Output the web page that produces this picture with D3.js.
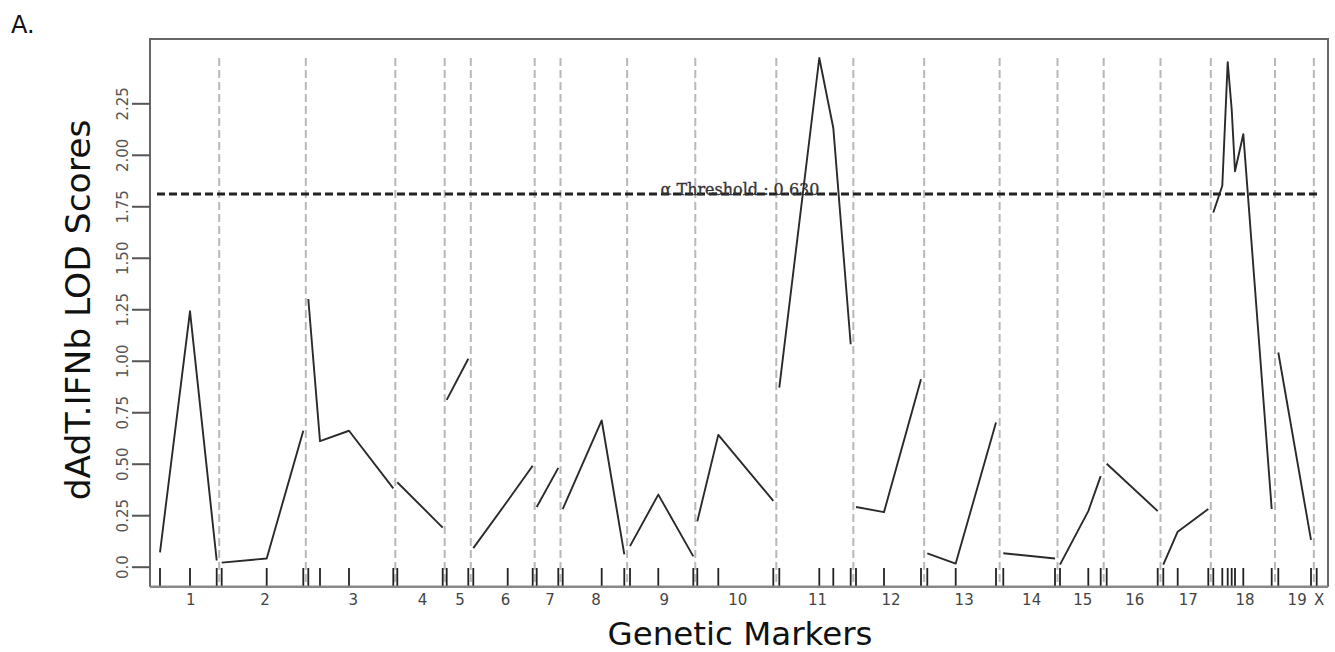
<!DOCTYPE html>
<html>
<head>
<meta charset="utf-8">
<script src="https://cdn.jsdelivr.net/npm/d3@7"></script>
<style>
  body { margin: 0; background: #fff; }
  svg text { font-family: "DejaVu Sans", sans-serif; }
</style>
</head>
<body>
<div id="chart"></div>
<script>
// chromosome names in genome order
const chromosomes = ["1","2","3","4","5","6","7","8","9","10","11","12","13","14","15","16","17","18","19","X"];

// one entry per genetic marker: chromosome, map position, LOD score
const markerChr = [
  "1","1","1",
  "2","2","2",
  "3","3","3","3",
  "4","4",
  "5","5",
  "6","6","6",
  "7","7",
  "8","8","8",
  "9","9","9",
  "10","10","10",
  "11","11","11","11",
  "12","12","12",
  "13","13","13",
  "14","14",
  "15","15","15",
  "16","16",
  "17","17","17",
  "18","18","18","18","18","18","18",
  "19","19",
  "X"
];
const markerPos = [
  10, 40, 66.7,
  71.7, 116.7, 153.3,
  158.3, 170, 199, 243.3,
  247.3, 292.7,
  296.7, 318.3,
  323.3, 357.7, 382.7,
  386.7, 408.3,
  412.7, 451.7, 474.3,
  480, 508.3, 543.3,
  547.3, 568.3, 623.3,
  629.3, 669.3, 683.3, 700.7,
  706, 734, 771,
  777.3, 805.7, 846,
  853.3, 905,
  910, 938.3, 950.7,
  956.7, 1007.7,
  1013.3, 1027.7, 1058.3,
  1063.3, 1072.3, 1077.7, 1081.7, 1085, 1093.3, 1121.7,
  1128.3, 1161,
  1166.7
];
const lodScores = [
  0.07, 1.24, 0.03,
  0.02, 0.04, 0.66,
  1.30, 0.61, 0.66, 0.38,
  0.41, 0.19,
  0.81, 1.01,
  0.09, 0.32, 0.49,
  0.29, 0.48,
  0.28, 0.71, 0.06,
  0.10, 0.35, 0.05,
  0.22, 0.64, 0.32,
  0.87, 2.47, 2.13, 1.08,
  0.29, 0.265, 0.91,
  0.065, 0.015, 0.70,
  0.065, 0.04,
  0.01, 0.27, 0.44,
  0.50, 0.27,
  0.01, 0.17, 0.28,
  1.72, 1.85, 2.45, 2.22, 1.92, 2.10, 0.28,
  1.04, 0.13,
  null
];

const yTicks = [0, 0.25, 0.5, 0.75, 1.0, 1.25, 1.5, 1.75, 2.0, 2.25];
const threshold = 1.81;
const thresholdLabel = "α Threshold : 0.630";

const config = {
  width: 1335,
  height: 652,
  plot: {left: 150, top: 39, right: 1328, bottom: 586.7},
  tickTop: 568
};

const markers = markerPos.map((p, i) => ({chr: markerChr[i], pos: p, lod: lodScores[i]}));
const byChr = d3.group(markers, d => d.chr);

const svg = d3.select('#chart').append('svg')
    .attr('width', config.width)
    .attr('height', config.height);

// scales
const x = d3.scaleLinear()
    .domain([0, 1178])
    .range([config.plot.left, config.plot.right]);

const y = d3.scaleLinear()
    .domain([0, 2.25])
    .range([566.7, 103.3]);

// chromosome boundaries: halfway between last marker of one and first of next
const boundaries = [];
const labelPos = [];
chromosomes.forEach((c, i) => {
  const ms = byChr.get(c);
  labelPos.push((ms[0].pos + ms[ms.length - 1].pos) / 2);
  if (i < chromosomes.length - 1) {
    const next = byChr.get(chromosomes[i + 1]);
    boundaries.push((ms[ms.length - 1].pos + next[0].pos) / 2);
  }
});

const maxLod = d3.max(lodScores);

// dashed chromosome separators
svg.append('g')
  .selectAll('line')
  .data(boundaries)
  .join('line')
    .attr('x1', d => x(d)).attr('x2', d => x(d))
    .attr('y1', y(maxLod)).attr('y2', config.plot.bottom)
    .attr('stroke', '#b8b8b8')
    .attr('stroke-width', 2)
    .attr('stroke-dasharray', '8,4');

// frame
const frame = svg.append('g').attr('fill', 'none');
frame.append('path')
    .attr('d', `M${config.plot.left},${config.plot.bottom}V${config.plot.top}H${config.plot.right}V${config.plot.bottom}`)
    .attr('stroke', '#666')
    .attr('stroke-width', 2);
frame.append('line')
    .attr('x1', config.plot.left).attr('x2', config.plot.right)
    .attr('y1', config.plot.bottom).attr('y2', config.plot.bottom)
    .attr('stroke', '#888')
    .attr('stroke-width', 2.5);

// marker ticks
svg.append('g')
  .selectAll('line')
  .data(markers)
  .join('line')
    .attr('x1', d => x(d.pos)).attr('x2', d => x(d.pos))
    .attr('y1', config.tickTop).attr('y2', config.plot.bottom - 1)
    .attr('stroke', '#222')
    .attr('stroke-width', 1.8);

// threshold line
svg.append('line')
    .attr('x1', x(markerPos[0]) - 3).attr('x2', x(markerPos[markerPos.length - 1]) + 3)
    .attr('y1', y(threshold)).attr('y2', y(threshold))
    .attr('stroke', '#222')
    .attr('stroke-width', 3)
    .attr('stroke-dasharray', '8,4');

svg.append('text')
    .attr('x', 740)
    .attr('y', y(threshold) + 1)
    .attr('text-anchor', 'middle')
    .attr('font-size', 16)
    .attr('fill', '#333')
    .attr('stroke', '#333')
    .attr('stroke-width', 0.3)
    .style('font-family', '"DejaVu Serif", serif')
    .text(thresholdLabel);

// LOD curves, one per chromosome
const line = d3.line()
    .defined(d => d.lod != null)
    .x(d => x(d.pos))
    .y(d => y(d.lod));

svg.append('g')
  .selectAll('path')
  .data(chromosomes.map(c => byChr.get(c)))
  .join('path')
    .attr('d', line)
    .attr('fill', 'none')
    .attr('stroke', '#2a2a2a')
    .attr('stroke-width', 1.9)
    .attr('stroke-linejoin', 'round');

// y axis
const yAxisG = svg.append('g')
    .attr('transform', `translate(${config.plot.left},0)`)
    .call(d3.axisLeft(y)
      .tickValues(yTicks)
      .tickSize(18)
      .tickFormat(d => d === 0 ? '0.0' : d3.format('.2f')(d)));
yAxisG.select('.domain').remove();
yAxisG.selectAll('.tick line').attr('stroke', '#555').attr('stroke-width', 2);
yAxisG.selectAll('.tick text')
    .attr('transform', 'rotate(-90)')
    .attr('x', 0)
    .attr('y', -22)
    .attr('dy', 0)
    .attr('text-anchor', 'middle')
    .attr('font-size', 15)
    .attr('fill', '#555');

// x axis (chromosome labels)
const xAxisG = svg.append('g')
    .attr('transform', `translate(0,${config.plot.bottom})`)
    .call(d3.axisBottom(x)
      .tickValues(labelPos)
      .tickFormat((d, i) => chromosomes[i])
      .tickSize(0)
      .tickPadding(7.5));
xAxisG.select('.domain').remove();
xAxisG.selectAll('.tick text')
    .attr('dx', 2)
    .attr('font-size', 15)
    .attr('fill', '#444');

// titles
svg.append('text')
    .attr('transform', 'translate(90,310) rotate(-90)')
    .attr('text-anchor', 'middle')
    .attr('font-size', 34.5)
    .attr('fill', '#111')
    .text('dAdT.IFNb LOD Scores');

svg.append('text')
    .attr('x', 740)
    .attr('y', 645)
    .attr('text-anchor', 'middle')
    .attr('font-size', 32.5)
    .attr('fill', '#111')
    .text('Genetic Markers');

svg.append('text')
    .attr('x', 11)
    .attr('y', 33)
    .attr('font-size', 24)
    .attr('fill', '#111')
    .text('A.');
</script>
</body>
</html>
